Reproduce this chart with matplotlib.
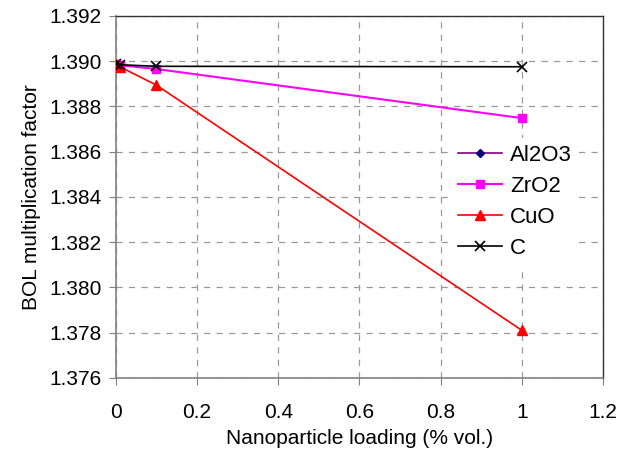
import matplotlib.pyplot as plt
import numpy as np

plt.rcParams['font.family'] = ['Liberation Sans', 'DejaVu Sans']

# nanoparticle loading (% vol.) and BOL multiplication factor per material
x_al2o3 = [0, 0.01]
k_al2o3 = [1.38985, 1.38983]

x_load = [0, 0.01, 0.1, 1]
k_zro2 = [1.38985, 1.38982, 1.38965, 1.38748]
k_cuo = [1.38985, 1.38975, 1.38894, 1.37810]
k_c = [1.38985, 1.38984, 1.38977, 1.38975]

xticks = [0, 0.2, 0.4, 0.6, 0.8, 1, 1.2]
xticklabels = ['0', '0.2', '0.4', '0.6', '0.8', '1', '1.2']
yticks = np.arange(1.376, 1.3921, 0.002)

fig = plt.figure(figsize=(6.43, 4.66), dpi=100)
ax = fig.add_axes([0.180, 0.189, 0.758, 0.777])

ax.plot(x_al2o3, k_al2o3, color='#800080', lw=1.2, marker='D', ms=4,
        mfc='#000080', mec='#000080', label='Al2O3', zorder=3)
ax.plot(x_load, k_zro2, color='#ff00ff', lw=1.5, marker='s', ms=5.5,
        mfc='#ff00ff', mec='#ff00ff', label='ZrO2', zorder=4)
ax.plot(x_load, k_cuo, color='#ff0000', lw=1.2, marker='^', ms=6.5,
        mfc='#ff0000', mec='#ff0000', label='CuO', zorder=5)
ax.plot(x_load, k_c, color='#000000', lw=1.2, marker='x', ms=7,
        mew=1.2, label='C', zorder=6)

ax.set_xlim(0, 1.2)
ax.set_ylim(1.376, 1.392)
ax.set_xticks(xticks)
ax.set_xticklabels(xticklabels)
ax.set_yticks(yticks)
ax.set_yticklabels([f'{v:.3f}' for v in yticks])

ax.grid(True, ls=(0, (5, 5)), color='#999999', lw=0.9)
ax.set_axisbelow(True)

for side in ('left', 'bottom'):
    ax.spines[side].set_color('#808080')
    ax.spines[side].set_linewidth(1.2)
for side in ('top', 'right'):
    ax.spines[side].set_color('#333333')
    ax.spines[side].set_linewidth(1.0)

ax.tick_params(axis='both', direction='out', length=5, color='#808080',
               labelsize=15, pad=5)
ax.tick_params(axis='x', pad=13)

ax.set_xlabel('Nanoparticle loading (% vol.)', fontsize=15, labelpad=5)
ax.set_ylabel('BOL multiplication factor', fontsize=15, labelpad=6)

leg = ax.legend(loc='upper left', bbox_to_anchor=(0.665, 0.692), frameon=True,
                fontsize=16, handlelength=2.0, labelspacing=0.45,
                borderpad=0.3, handletextpad=0.35)
leg.get_frame().set_edgecolor('none')
leg.get_frame().set_facecolor('white')
leg.get_frame().set_alpha(1.0)

fig.savefig('out.png', dpi=100)
